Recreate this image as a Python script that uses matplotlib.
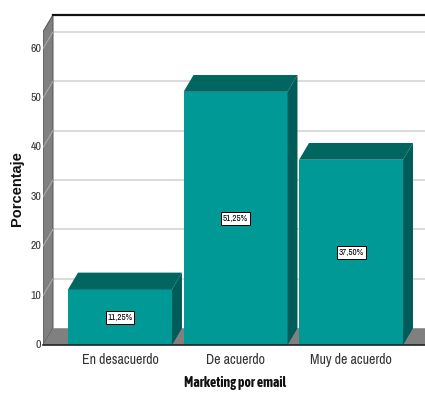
import matplotlib
matplotlib.use("Agg")
import matplotlib.pyplot as plt
from matplotlib.patches import Polygon

# data
categories = ["En desacuerdo", "De acuerdo", "Muy de acuerdo"]
percentages = [11.25, 51.25, 37.50]
bar_labels = ["11,25%", "51,25%", "37,50%"]
yticks = [0, 10, 20, 30, 40, 50, 60]

# colours
face_col = "#009996"
top_col = "#00665f"
side_col = "#005c58"
wall_col = "#808080"
grid_col = "#d4d4d4"

narrow = ["Archivo Narrow", "DejaVu Sans"]
narrow_bold = ["Asap Condensed", "DejaVu Sans"]

# 3d look: depth offset in data units
dx, dy = 0.086, 3.4
width = 0.90
x0, x1 = -0.667, 2.64
ytop = 63.4

fig = plt.figure(figsize=(4.25, 3.97), dpi=100)
ax = fig.add_axes([43 / 425, 52 / 397, 382 / 425, 330 / 397])
ax.set_xlim(x0, x1)
ax.set_ylim(0, ytop + dy)
ax.axis("off")

# back wall gridlines
for v in yticks[1:]:
    ax.plot([x0 + dx, x1], [v + dy, v + dy], color=grid_col, lw=1.2, zorder=1)

# left wall
ax.add_patch(Polygon([(x0, 0), (x0, ytop), (x0 + dx, ytop + dy), (x0 + dx, dy)],
                     closed=True, fc=wall_col, ec="#555555", lw=0.8, zorder=2))
for v in yticks[1:]:
    ax.plot([x0, x0 + dx], [v, v + dy], color="#a8a8a8", lw=0.8, zorder=3)

# floor
ax.add_patch(Polygon([(x0, 0), (x1 + 0.2, 0), (x1 + 0.2 + dx, dy), (x0 + dx, dy)],
                     closed=True, fc=wall_col, ec="none", zorder=2, clip_on=False))

# frame top
ax.plot([x0 + dx, x1 + 0.1], [ytop + dy, ytop + dy], color="#111111", lw=1.6,
        zorder=3, clip_on=False)

# bars
for i, (val, lab) in enumerate(zip(percentages, bar_labels)):
    left = i - width / 2
    right = i + width / 2
    ax.add_patch(Polygon([(left, 0), (right, 0), (right, val), (left, val)],
                         closed=True, fc=face_col, ec="none", zorder=4))
    ax.add_patch(Polygon([(left, val), (right, val), (right + dx, val + dy), (left + dx, val + dy)],
                         closed=True, fc=top_col, ec="none", zorder=4))
    ax.add_patch(Polygon([(right, 0), (right, val), (right + dx, val + dy), (right + dx, dy)],
                         closed=True, fc=side_col, ec="none", zorder=4, clip_on=False))
    ax.text(i, val / 2, lab, ha="center", va="center", fontsize=6.5, family=narrow,
            color="black", zorder=6,
            bbox=dict(boxstyle="square,pad=0.2", fc="white", ec="black", lw=0.7))
    ax.text(i, -1.6, categories[i], ha="center", va="top", fontsize=10, family=narrow,
            color="#333333", clip_on=False)

# front floor line
ax.plot([x0, x1 + 0.1], [0, 0], color="#222222", lw=1.2, zorder=5, clip_on=False)

# y tick labels
for v in yticks:
    ax.text(x0 - 0.015, v, str(v), ha="right", va="center", fontsize=8.5,
            family=narrow, color="#333333", clip_on=False)

fig.text(235 / 425, 1 - 383 / 397, "Marketing por email", ha="center", va="center",
         fontsize=10, family=narrow_bold, fontweight="bold", color="#111111")
fig.text(17 / 425, 1 - 189 / 397, "Porcentaje", ha="center", va="center",
         rotation=90, fontsize=10.5, family=["Liberation Sans", "DejaVu Sans"],
         fontweight="bold", color="#111111")

fig.savefig("out.png", dpi=100)
